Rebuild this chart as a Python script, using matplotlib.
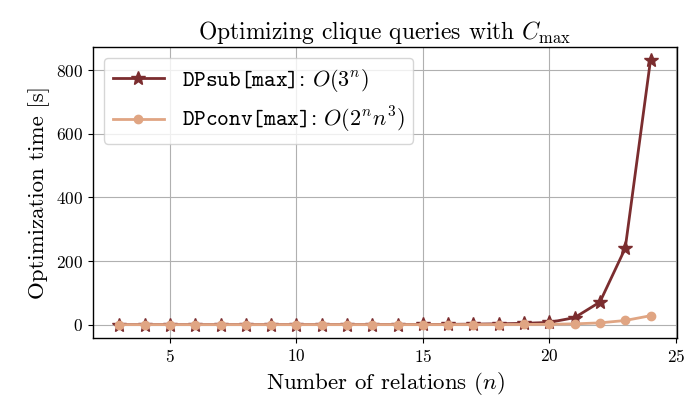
import numpy as np
import matplotlib
matplotlib.use("Agg")
import matplotlib.pyplot as plt

# data
n = list(range(3, 25))
dpsub_max = [0.0, 0.0, 0.0, 0.0, 0.0, 0.0, 0.0, 0.01, 0.02, 0.05, 0.1,
             0.2, 0.4, 0.8, 1.5, 2.5, 4.0, 7.0, 22.0, 71.0, 240.0, 832.0]
dpconv_max = [0.0, 0.0, 0.0, 0.0, 0.0, 0.0, 0.0, 0.0, 0.01, 0.02, 0.03,
              0.05, 0.08, 0.12, 0.2, 0.35, 0.5, 1.1, 2.4, 5.5, 13.0, 28.0]

plt.rcParams["font.family"] = "serif"
plt.rcParams["font.serif"] = ["cmr10"]
plt.rcParams["mathtext.fontset"] = "custom"
plt.rcParams["mathtext.rm"] = "cmr10"
plt.rcParams["mathtext.it"] = "cmmi10"
plt.rcParams["mathtext.tt"] = "cmtt10"
plt.rcParams["axes.formatter.use_mathtext"] = True

fig, ax = plt.subplots(figsize=(6.93, 4.11), dpi=100)
fig.subplots_adjust(left=0.134, right=0.977, top=0.886, bottom=0.178)

ax.plot(n, dpsub_max, marker="*", markersize=10, linewidth=2,
        color="#7b2d2f", label=r"$\mathtt{DPsub[max]}$: $O(3^n)$")
ax.plot(n, dpconv_max, marker="o", markersize=6, linewidth=2,
        color="#e0a583", label=r"$\mathtt{DPconv[max]}$: $O(2^n n^3)$")

ax.set_title(r"Optimizing clique queries with $C_{\max}$", fontsize=17)
ax.set_xlabel(r"Number of relations ($n$)", fontsize=16.5)
ax.set_ylabel(r"Optimization time [s]", fontsize=16.5)
ax.set_xticks([5, 10, 15, 20, 25])
ax.set_yticks([0, 200, 400, 600, 800])
ax.tick_params(labelsize=12.5)
ax.grid(True, color="#b0b0b0", linewidth=0.8)
ax.set_axisbelow(True)
for sp in ax.spines.values():
    sp.set_linewidth(1.0)
    sp.set_color("black")

ax.legend(loc="upper left", fontsize=16, handlelength=2.3)

fig.savefig("out.png", dpi=100, facecolor="white")
